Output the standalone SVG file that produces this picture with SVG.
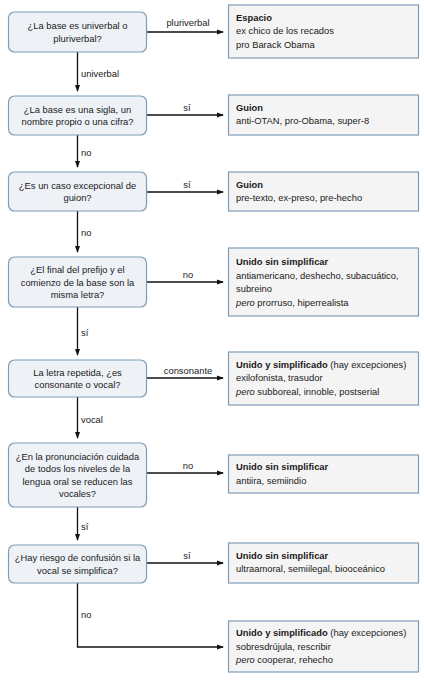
<svg xmlns="http://www.w3.org/2000/svg" width="424" height="680" viewBox="0 0 424 680">
<style>
text{font-family:"Liberation Sans",Arial,sans-serif;font-size:9.4px;fill:#1a1a1a}
.q rect{fill:#eef2f7;stroke:#7f9bb6;stroke-width:1.2}
.q text{text-anchor:middle}
.r rect{fill:#f4f4f4;stroke:#7f9bb6;stroke-width:1.2}
.b{font-weight:bold}
.i{font-style:italic}
.c{fill:none;stroke:#111;stroke-width:1.3}
.lm{text-anchor:middle}
</style>
<defs>
<marker id="ah" markerWidth="7" markerHeight="6" refX="6" refY="3" orient="auto" markerUnits="userSpaceOnUse">
<path d="M0,0.5 L7,3 L0,5.5 Z" fill="#111"/>
</marker>
</defs>
<rect width="424" height="680" fill="#fff"/>
<g id="connectors">
<path class="c" d="M146.5,32 H223" marker-end="url(#ah)"/>
<path class="c" d="M77.5,52 V91" marker-end="url(#ah)"/>
<path class="c" d="M146.5,115 H223" marker-end="url(#ah)"/>
<path class="c" d="M77.5,135 V167" marker-end="url(#ah)"/>
<path class="c" d="M146.5,192 H223" marker-end="url(#ah)"/>
<path class="c" d="M77.5,211 V252" marker-end="url(#ah)"/>
<path class="c" d="M146.5,282 H223" marker-end="url(#ah)"/>
<path class="c" d="M77.5,307 V355" marker-end="url(#ah)"/>
<path class="c" d="M146.5,378 H223" marker-end="url(#ah)"/>
<path class="c" d="M77.5,397 V438" marker-end="url(#ah)"/>
<path class="c" d="M146.5,473 H223" marker-end="url(#ah)"/>
<path class="c" d="M77.5,507 V540" marker-end="url(#ah)"/>
<path class="c" d="M146.5,563 H223" marker-end="url(#ah)"/>
<path class="c" d="M77.5,583 V647 H223" marker-end="url(#ah)"/>
<text class="lm" x="188" y="26">pluriverbal</text>
<text x="81" y="77">univerbal</text>
<text class="lm" x="187" y="111">sí</text>
<text x="81" y="156">no</text>
<text class="lm" x="187" y="188">sí</text>
<text x="81" y="236">no</text>
<text class="lm" x="188" y="278">no</text>
<text x="81" y="336">sí</text>
<text class="lm" x="188" y="374">consonante</text>
<text x="81" y="423">vocal</text>
<text class="lm" x="188" y="469">no</text>
<text x="81" y="530">sí</text>
<text class="lm" x="187" y="559">sí</text>
<text x="81" y="618">no</text>
</g>
<g id="q1" class="q"><rect x="8.5" y="12" width="138" height="40" rx="6"/><text x="77.5" y="29">¿La base es univerbal o</text><text x="77.5" y="41.5">pluriverbal?</text></g>
<g id="q2" class="q"><rect x="8.5" y="96" width="138" height="39" rx="6"/><text x="77.5" y="112.5">¿La base es una sigla, un</text><text x="77.5" y="125">nombre propio o una cifra?</text></g>
<g id="q3" class="q"><rect x="8.5" y="172" width="138" height="39" rx="6"/><text x="77.5" y="188.5">¿Es un caso excepcional de</text><text x="77.5" y="201">guion?</text></g>
<g id="q4" class="q"><rect x="8.5" y="257" width="138" height="50" rx="6"/><text x="77.5" y="273">¿El final del prefijo y el</text><text x="77.5" y="285.5">comienzo de la base son la</text><text x="77.5" y="298">misma letra?</text></g>
<g id="q5" class="q"><rect x="8.5" y="360" width="138" height="37" rx="6"/><text x="77.5" y="375.5">La letra repetida, ¿es</text><text x="77.5" y="388">consonante o vocal?</text></g>
<g id="q6" class="q"><rect x="8.5" y="443" width="138" height="64" rx="6"/><text x="77.5" y="459.5">¿En la pronunciación cuidada</text><text x="77.5" y="472">de todos los niveles de la</text><text x="77.5" y="484.5">lengua oral se reducen las</text><text x="77.5" y="497">vocales?</text></g>
<g id="q7" class="q"><rect x="8.5" y="545" width="138" height="38" rx="6"/><text x="77.5" y="561">¿Hay riesgo de confusión si la</text><text x="77.5" y="573.5">vocal se simplifica?</text></g>
<g id="r1" class="r"><rect x="228.5" y="5" width="190" height="53"/><text x="236" y="20.5" class="b">Espacio</text><text x="236" y="34">ex chico de los recados</text><text x="236" y="47.5">pro Barack Obama</text></g>
<g id="r2" class="r"><rect x="228.5" y="95" width="190" height="40"/><text x="236" y="110.5" class="b">Guion</text><text x="236" y="124">anti-OTAN, pro-Obama, super-8</text></g>
<g id="r3" class="r"><rect x="228.5" y="172" width="190" height="39"/><text x="236" y="187.5" class="b">Guion</text><text x="236" y="201">pre-texto, ex-preso, pre-hecho</text></g>
<g id="r4" class="r"><rect x="228.5" y="248" width="190" height="68"/><text x="236" y="265" class="b">Unido sin simplificar</text><text x="236" y="278.5">antiamericano, deshecho, subacuático,</text><text x="236" y="292">subreino</text><text x="236" y="305.5"><tspan class="i">pero</tspan> prorruso, hiperrealista</text></g>
<g id="r5" class="r"><rect x="228.5" y="352" width="190" height="53"/><text x="236" y="367.5"><tspan class="b">Unido y simplificado</tspan> (hay excepciones)</text><text x="236" y="381">exilofonista, trasudor</text><text x="236" y="394.5"><tspan class="i">pero</tspan> subboreal, innoble, postserial</text></g>
<g id="r6" class="r"><rect x="228.5" y="455" width="190" height="38"/><text x="236" y="470" class="b">Unido sin simplificar</text><text x="236" y="483.5">antiira, semiindio</text></g>
<g id="r7" class="r"><rect x="228.5" y="543" width="190" height="40"/><text x="236" y="558.5" class="b">Unido sin simplificar</text><text x="236" y="572">ultraamoral, semiilegal, biooceánico</text></g>
<g id="r8" class="r"><rect x="228.5" y="621" width="190" height="51"/><text x="236" y="636"><tspan class="b">Unido y simplificado</tspan> (hay excepciones)</text><text x="236" y="649.5">sobresdrújula, rescribir</text><text x="236" y="663"><tspan class="i">pero</tspan> cooperar, rehecho</text></g>
</svg>
